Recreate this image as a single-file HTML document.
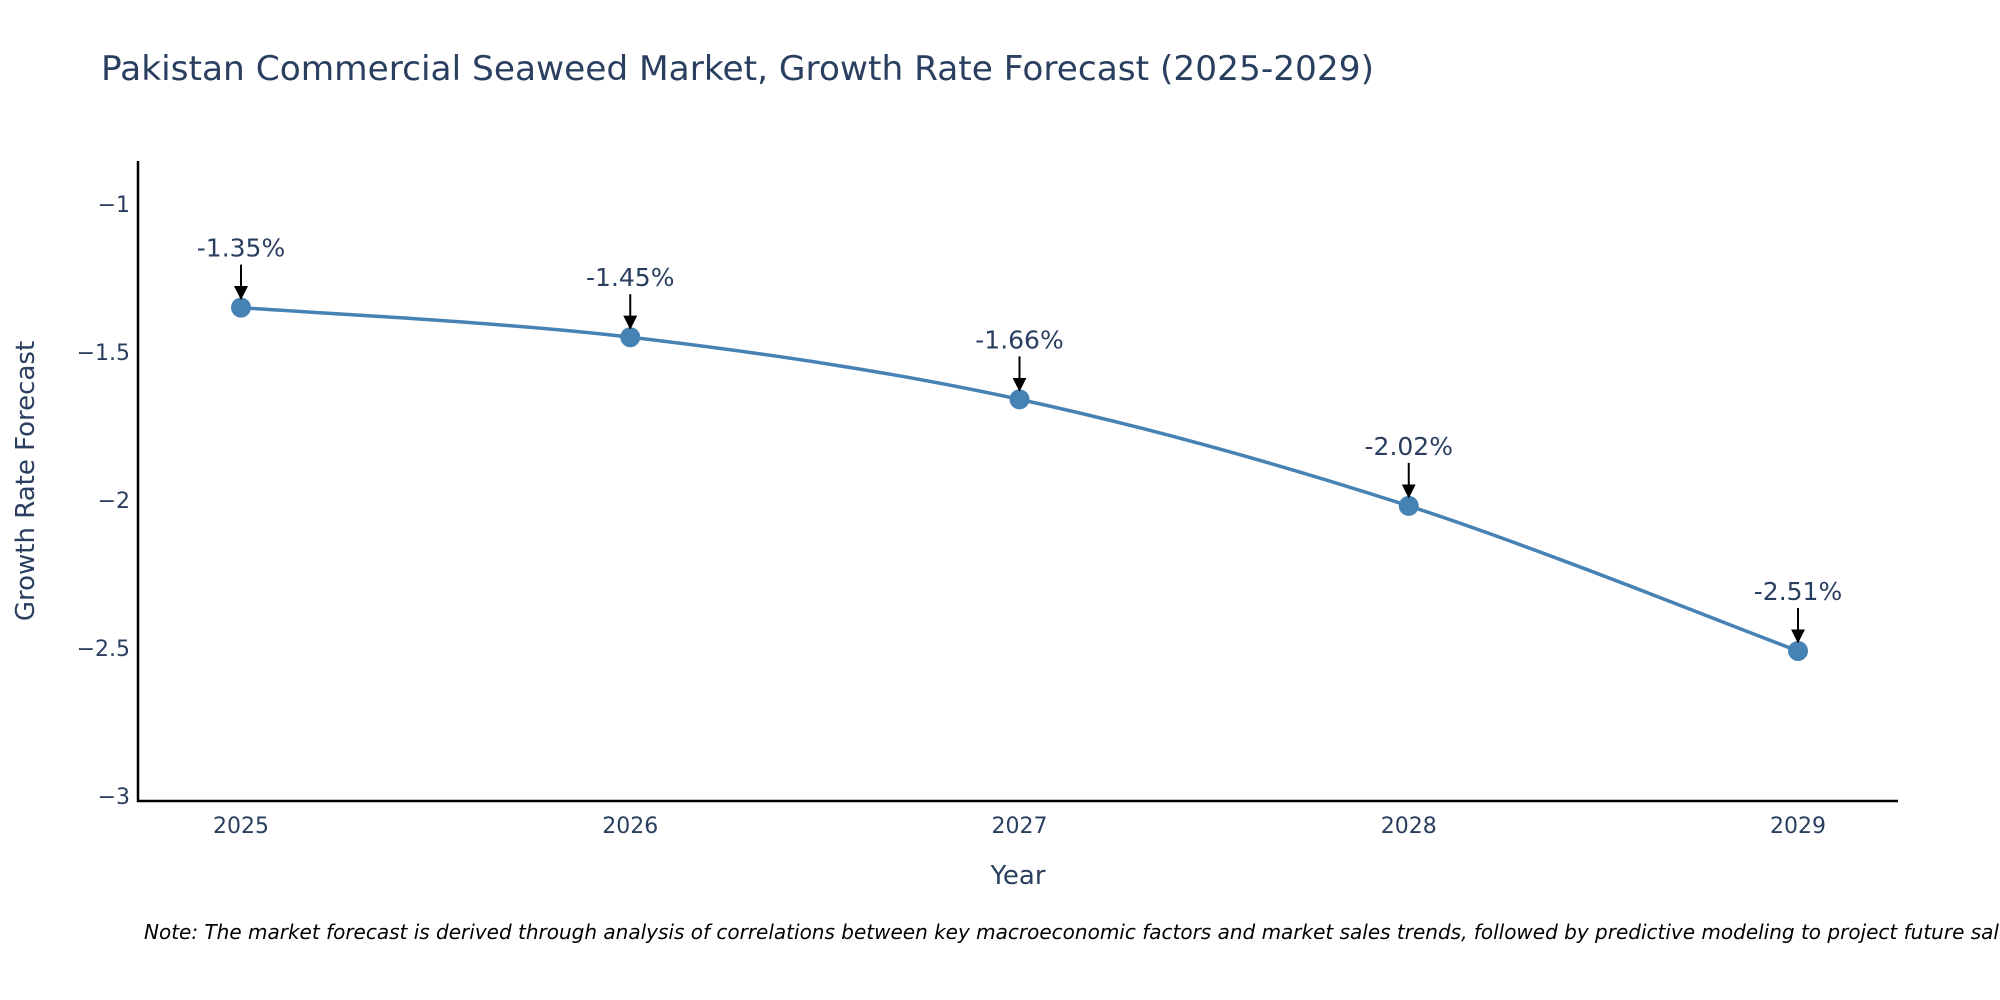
<!DOCTYPE html>
<html><head><meta charset="utf-8"><style>
html,body{margin:0;padding:0;background:#fff;overflow:hidden;}
svg{display:block;font-family:"DejaVu Sans","Liberation Sans",sans-serif;}
</style></head><body>
<svg id="chart" width="2000" height="1000" viewBox="0 0 2000 1000" xmlns="http://www.w3.org/2000/svg">
<defs><marker id="ah" viewBox="0 0 10 10" refX="9" refY="5" markerWidth="7" markerHeight="7" orient="auto"><path d="M0,0L10,5L0,10z" fill="#000"/></marker></defs>
<text x="101" y="80" font-size="34" fill="#2a3f5f" textLength="1273" lengthAdjust="spacingAndGlyphs">Pakistan Commercial Seaweed Market, Growth Rate Forecast (2025-2029)</text>
<g id="yticks"></g>
<g id="xticks"></g>
<line x1="138" y1="161" x2="138" y2="802" stroke="#000" stroke-width="2.5"/>
<line x1="137" y1="801" x2="1898" y2="801" stroke="#000" stroke-width="2.5"/>
<text transform="translate(34,481) rotate(-90)" text-anchor="middle" font-size="26" fill="#2a3f5f">Growth Rate Forecast</text>
<text x="1018" y="884" text-anchor="middle" font-size="26" fill="#2a3f5f">Year</text>
<g id="series"></g>
<g id="annots"></g>
<text x="144" y="939" font-size="20" font-style="italic" fill="#000">Note: The market forecast is derived through analysis of correlations between key macroeconomic factors and market sales trends, followed by predictive modeling to project future sales.</text>
</svg>
<script>
const years = [2025, 2026, 2027, 2028, 2029];
const growth = [-1.35, -1.45, -1.66, -2.02, -2.51];
const labels = ["-1.35%", "-1.45%", "-1.66%", "-2.02%", "-2.51%"];
const yTickValues = [-1, -1.5, -2, -2.5, -3];
const yTickLabels = ["\u22121", "\u22121.5", "\u22122", "\u22122.5", "\u22123"];

const NS = "http://www.w3.org/2000/svg";
function X(v){ return 241 + (v - 2025) * (1798 - 241) / 4; }
function Y(v){ return 204 + (-1 - v) * 296; }
function mk(tag, attrs, parent){ const e=document.createElementNS(NS,tag); for(const k in attrs) e.setAttribute(k, attrs[k]); parent.appendChild(e); return e; }

const yt = document.getElementById('yticks');
yTickValues.forEach((v,i)=>{
  const t = mk('text',{x:130,y:Y(v)+8,'text-anchor':'end','font-size':22,fill:'#2a3f5f'},yt);
  
  
  t.textContent = yTickLabels[i];
});
const xt = document.getElementById('xticks');
years.forEach(v=>{
  const t = mk('text',{x:X(v),y:833,'text-anchor':'middle','font-size':22,fill:'#2a3f5f'},xt);
  
  
  t.textContent = String(v);
});

const pts = years.map((y,i)=>[X(y), Y(growth[i])]);
let d = `M${pts[0][0]},${pts[0][1]}`;
for(let i=0;i<pts.length-1;i++){
  const p0=pts[Math.max(0,i-1)], p1=pts[i], p2=pts[i+1], p3=pts[Math.min(pts.length-1,i+2)];
  const c1=[p1[0]+(p2[0]-p0[0])/6, p1[1]+(p2[1]-p0[1])/6];
  const c2=[p2[0]-(p3[0]-p1[0])/6, p2[1]-(p3[1]-p1[1])/6];
  d += ` C${c1[0]},${c1[1]} ${c2[0]},${c2[1]} ${p2[0]},${p2[1]}`;
}
const s = document.getElementById('series');
const line = mk('path',{d:d,fill:'none',stroke:'#4682b4','stroke-width':3.5},s);


const an = document.getElementById('annots');
pts.forEach((p,i)=>{
  const c = mk('circle',{cx:p[0],cy:p[1],r:10,fill:'#4682b4'},s);
  
  
  const a = mk('line',{x1:p[0],y1:p[1]-43,x2:p[0],y2:p[1]-9,stroke:'#000','stroke-width':2,'marker-end':'url(#ah)'},an);
  
  
  const t = mk('text',{x:p[0],y:p[1]-51,'text-anchor':'middle','font-size':25,fill:'#2a3f5f'},an);
  
  
  t.textContent = labels[i];
});
</script>
</body></html>
